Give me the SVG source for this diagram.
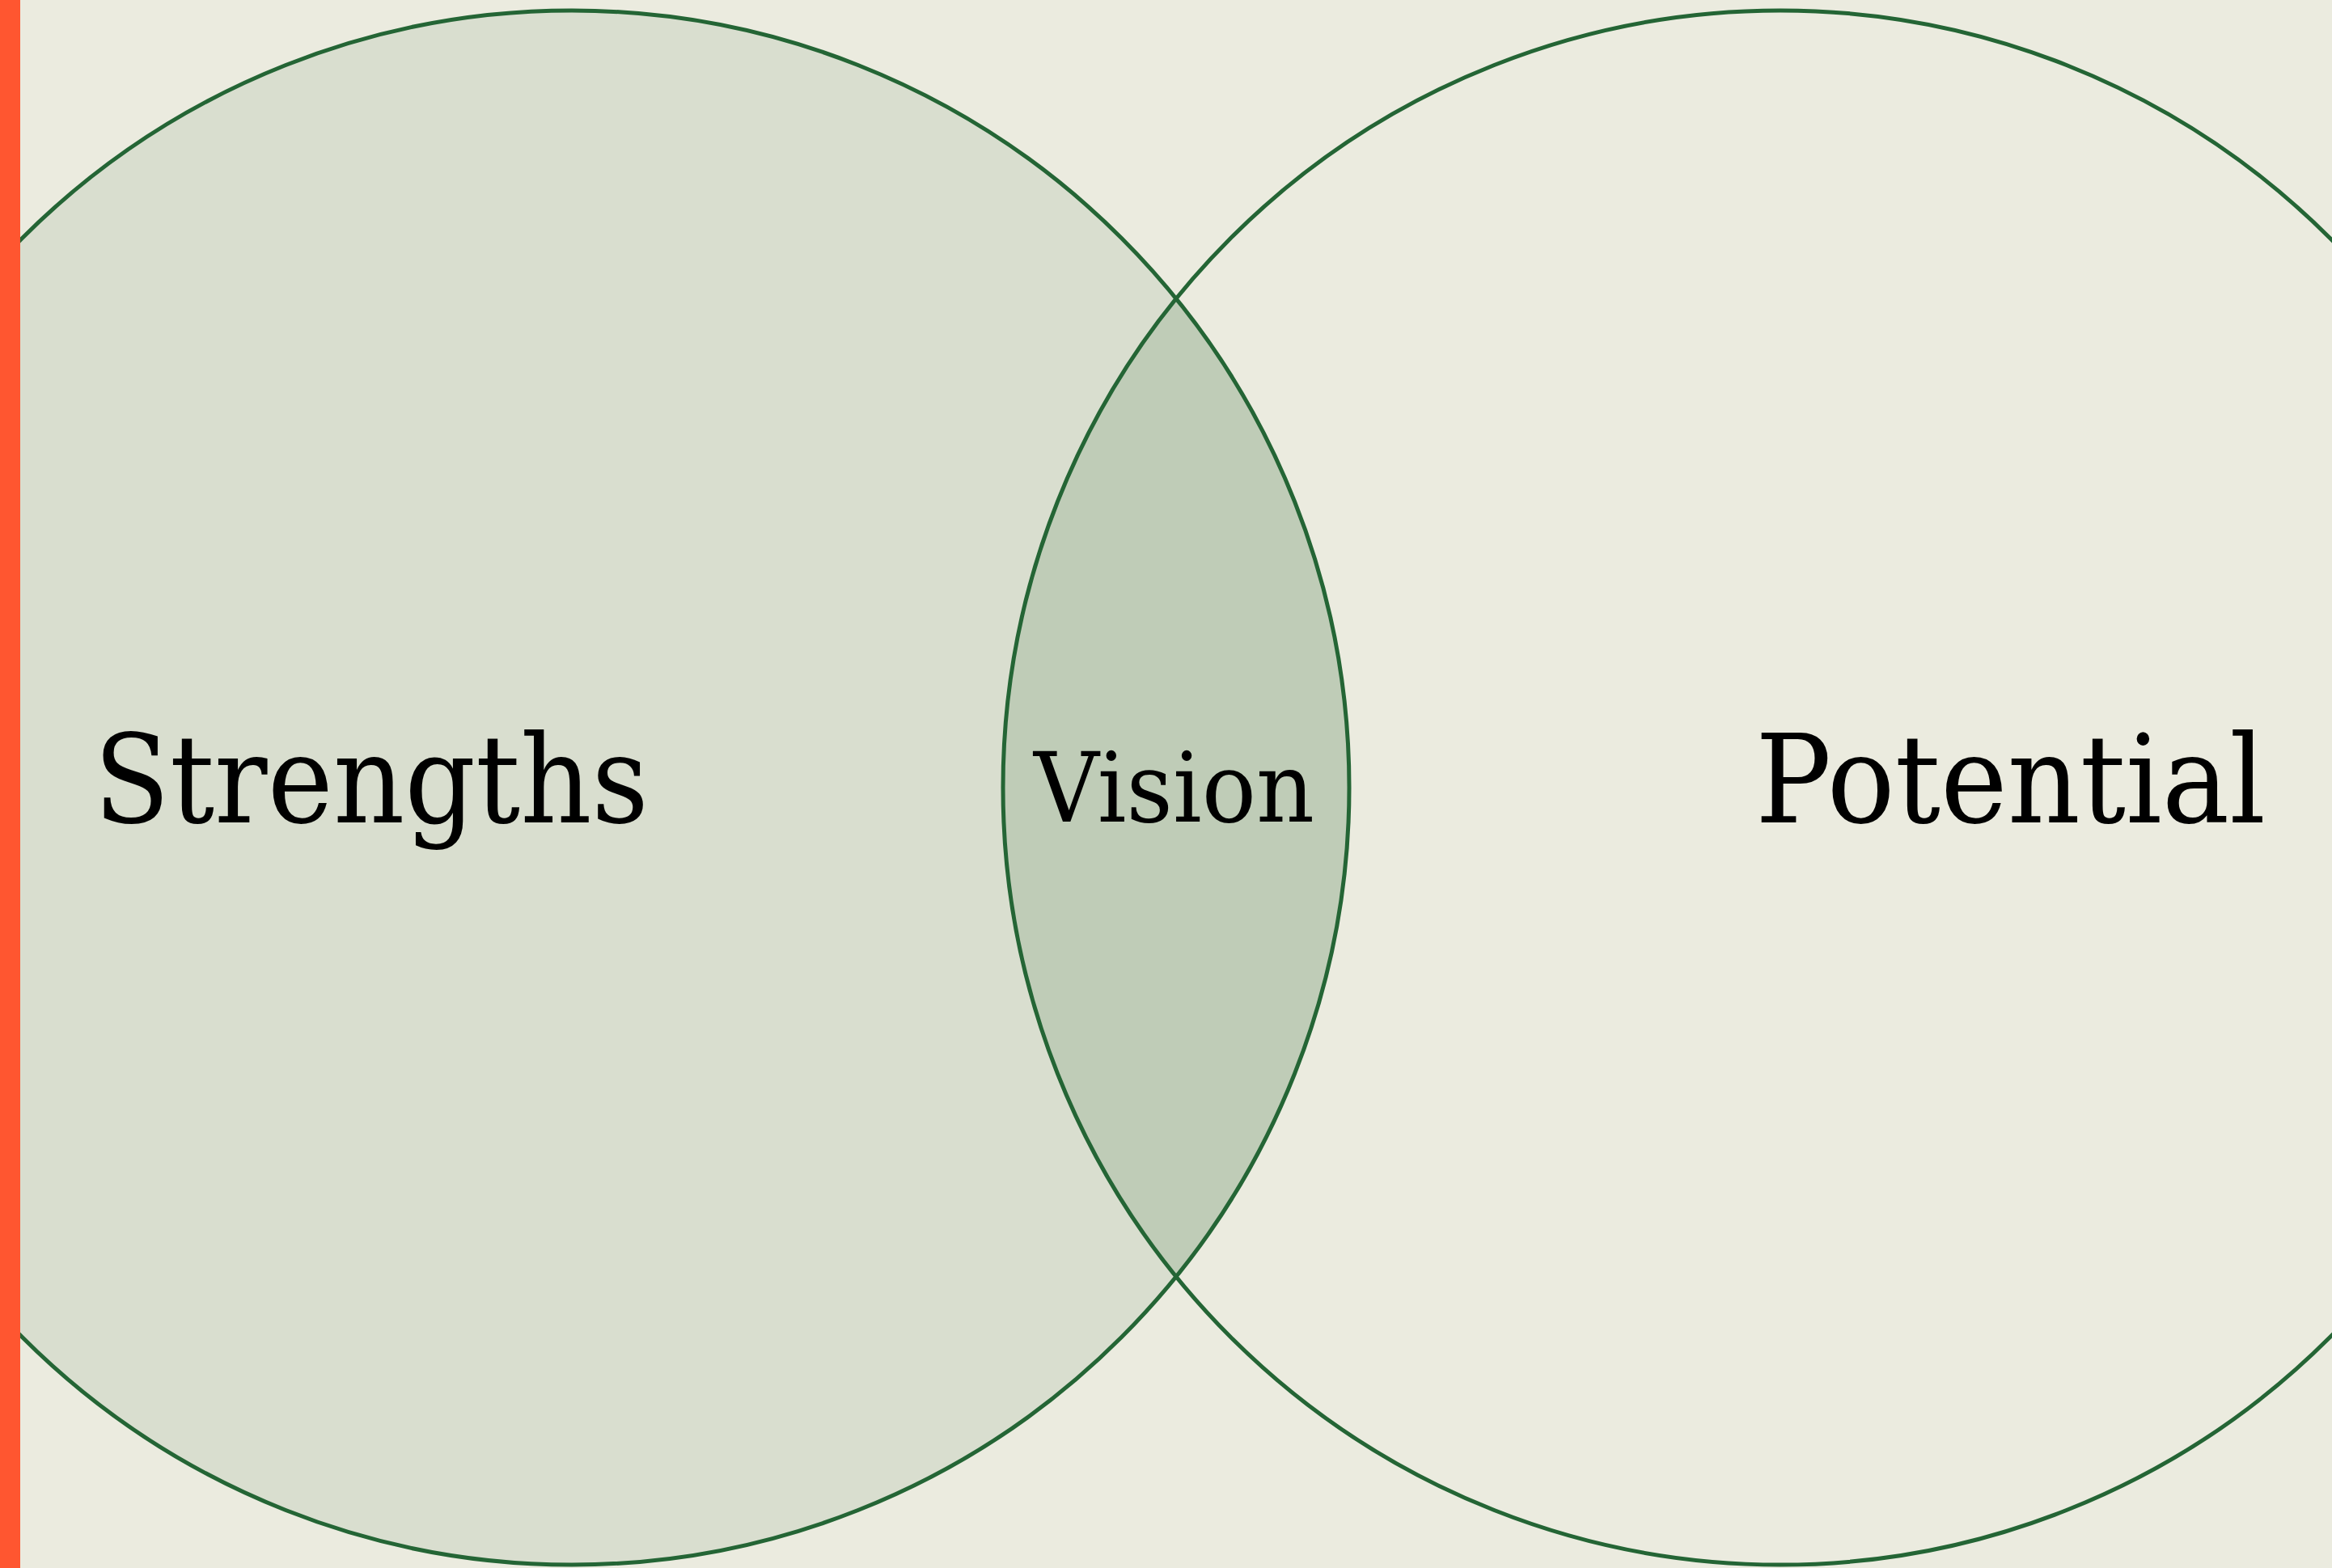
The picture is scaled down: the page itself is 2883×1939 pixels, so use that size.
<svg xmlns="http://www.w3.org/2000/svg" width="2883" height="1939" viewBox="0 0 2883 1939">
<style>
.ring{stroke:#246535;stroke-width:5}
.lbl{font-family:"DejaVu Serif","Liberation Serif",serif;fill:#000}
</style>
<rect x="0" y="0" width="2883" height="1939" fill="#EBEBDF"/>
<g id="strengths">
<circle cx="707" cy="974" r="961" fill="#D9DECF"/>
</g>
<g id="potential">
<circle cx="2201" cy="974" r="961" fill="#EBEBDF"/>
</g>
<g id="vision">
<path d="M1454 369.4 A961 961 0 0 1 1454 1578.6 A961 961 0 0 1 1454 369.4 Z" fill="#BFCCB7"/>
</g>
<g id="connectors">
<circle class="ring" cx="707" cy="974" r="961" fill="none"/>
<circle class="ring" cx="2201" cy="974" r="961" fill="none"/>
</g>
<text class="lbl" x="116" y="1017" font-size="152" textLength="686" lengthAdjust="spacingAndGlyphs">Strengths</text>
<text class="lbl" x="1278" y="1016" font-size="119" textLength="347" lengthAdjust="spacingAndGlyphs">Vision</text>
<text class="lbl" x="2170" y="1017" font-size="152" textLength="631" lengthAdjust="spacingAndGlyphs">Potential</text>
<rect x="0" y="0" width="25" height="1939" fill="#FF5630"/>
</svg>
